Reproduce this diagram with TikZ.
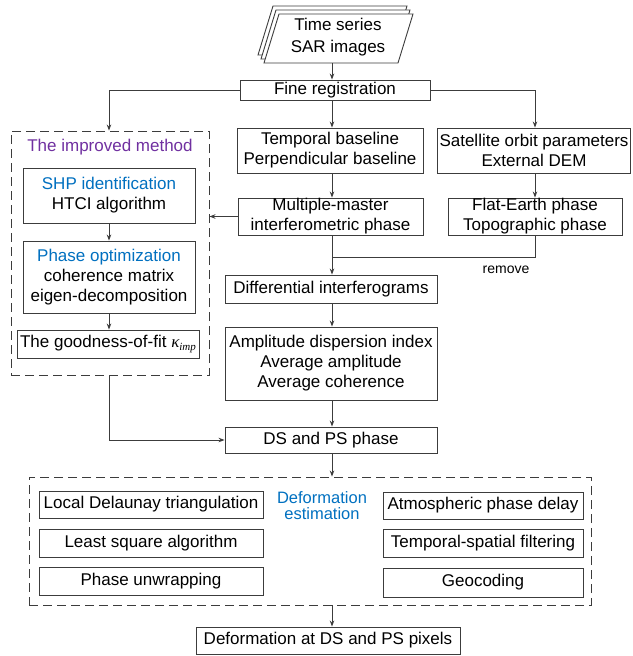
\documentclass[tikz,border=0pt]{standalone}
\usepackage{fontspec}
\setmainfont{Liberation Sans}
\newfontfamily\serifgr{Liberation Serif}
\usetikzlibrary{arrows.meta,calc}
\definecolor{lncol}{RGB}{60,60,60}
\definecolor{wblue}{RGB}{0,112,192}
\definecolor{wpurple}{RGB}{112,48,160}
\begin{document}
\begin{tikzpicture}[x=1pt,y=-1pt,
 box/.style={draw=lncol, line width=0.9pt, align=center, inner sep=0pt, font=\fontsize{17}{20}\selectfont, fill=white},
 arr/.style={draw=lncol, line width=0.9pt, -{Stealth[length=6pt,width=4.5pt]}},
 ln/.style={draw=lncol, line width=0.9pt},
 dbox/.style={draw=lncol, line width=0.9pt, dash pattern=on 9pt off 5pt, inner sep=0pt},
 lbl/.style={inner sep=0pt, align=center, font=\fontsize{17}{20}\selectfont},
]
\useasboundingbox (0,0) rectangle (632,656);
\coordinate (ax) at (332,0);

% stacked SAR images
\foreach \dx/\dy in {-6/-8,-3/-4,0/0}{
  \filldraw[ln, fill=white] (279+\dx,14+\dy) -- (413+\dx,14+\dy) -- (398+\dx,63+\dy) -- (264+\dx,63+\dy) -- cycle;
}
\node[lbl, font=\fontsize{17}{21.5}\selectfont] (sar) at (338,37) {Time series\\SAR images};
\coordinate (sarb) at (332,63);

% main column
\node[box, minimum width=190pt, minimum height=20pt] (fine) at (335,90) {Fine registration};
\node[box, minimum width=186pt, minimum height=45pt] (temp) at (330,150.5) {Temporal baseline\\Perpendicular baseline};
\node[box, minimum width=193pt, minimum height=45pt] (sat) at (534,150.5) {Satellite orbit parameters\\External DEM};
\node[box, minimum width=185pt, minimum height=37pt] (mm) at (330.5,216.5) {Multiple-master\\interferometric phase};
\node[box, minimum width=174pt, minimum height=37pt] (flat) at (535,216.5) {Flat-Earth phase\\Topographic phase};
\node[box, minimum width=212pt, minimum height=28pt] (diff) at (331,289) {Differential interferograms};
\node[box, minimum width=212pt, minimum height=73pt] (amp) at (331,363.5) {Amplitude dispersion index\\Average amplitude\\Average coherence};
\node[box, minimum width=212pt, minimum height=26pt] (ds) at (331,440) {DS and PS phase};
\node[box, minimum width=264pt, minimum height=27pt] (final) at (328,640.5) {Deformation at DS and PS pixels};
\node[lbl, font=\fontsize{14}{14}\selectfont] (rm) at (506,270) {remove};
\coordinate (jn) at (332,257);

% improved method
\node[dbox, minimum width=198pt, minimum height=244pt] (impr) at (110,253) {};
\node[lbl, text=wpurple] (title) at (110,147) {The improved method};
\node[box, minimum width=172pt, minimum height=55pt] (shp) at (109,195.5) {\textcolor{wblue}{SHP identification}\\HTCI algorithm};
\node[box, minimum width=172pt, minimum height=72pt] (popt) at (109,277) {\textcolor{wblue}{Phase optimization}\\coherence matrix\\eigen-decomposition};
\node[box, minimum width=182pt, minimum height=28pt] (gof) at (108,344) {The goodness-of-fit {\serifgr\itshape κ\raisebox{-0.4ex}{\fontsize{11}{11}\selectfont imp}}};

% deformation estimation
\node[dbox, minimum width=562pt, minimum height=128pt] (bot) at (310,541) {};
\node[lbl, font=\fontsize{16.5}{16}\selectfont, text=wblue] (de) at (322,505.5) {Deformation\\estimation};
\node[box, minimum width=224pt, minimum height=27pt] (l1) at (151,504.5) {Local Delaunay triangulation};
\node[box, minimum width=224pt, minimum height=28pt] (l2) at (151,543) {Least square algorithm};
\node[box, minimum width=224pt, minimum height=28pt] (l3) at (151,581) {Phase unwrapping};
\node[box, minimum width=200pt, minimum height=27pt] (r1) at (483,505.5) {Atmospheric phase delay};
\node[box, minimum width=200pt, minimum height=28pt] (r2) at (483,543) {Temporal-spatial filtering};
\node[box, minimum width=200pt, minimum height=29pt] (r3) at (483,582.5) {Geocoding};

% connectors
\draw[arr] (sarb) -- (sarb |- fine.north);
\draw[arr] (fine.south -| ax) -- (temp.north -| ax);
\draw[arr] (fine.west) -| (shp.north |- impr.north);
\draw[arr] (fine.east) -| (flat.north |- sat.north);
\draw[arr] (temp.south -| ax) -- (mm.north -| ax);
\draw[arr] (sat.south -| flat.north) -- (flat.north);
\draw[ln] (flat.south) |- (jn);
\draw[arr] (mm.south -| ax) -- (diff.north -| ax);
\draw[arr] (mm.west) -- (mm.west -| impr.east);
\draw[arr] (diff.south -| ax) -- (amp.north -| ax);
\draw[arr] (amp.south -| ax) -- (ds.north -| ax);
\draw[arr] (shp.south |- impr.south) |- (ds.west);
\draw[arr] (ds.south -| ax) -- (bot.north -| ax);
\draw[arr] (bot.south -| ax) -- (final.north -| ax);
\draw[arr] (shp.south) -- (popt.north);
\draw[arr] (popt.south) -- (gof.north -| popt.south);
\end{tikzpicture}
\end{document}
